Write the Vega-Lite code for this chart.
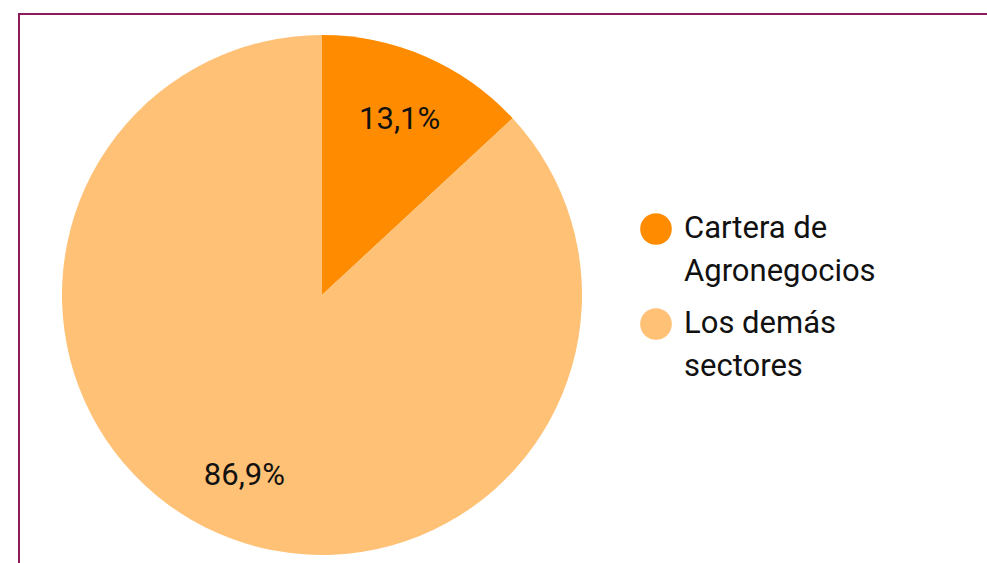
{
  "$schema": "https://vega.github.io/schema/vega-lite/v6.json",
  "width": 980,
  "height": 562,
  "autosize": {"type": "none"},
  "padding": {"left": 19, "top": 14, "right": 0, "bottom": 0},
  "background": "white",
  "view": {"stroke": "#8E1A5C", "strokeWidth": 2, "fill": "white"},
  "config": {
    "view": {"stroke": "#8E1A5C", "strokeWidth": 2},
    "locale": {"number": {"decimal": ",", "thousands": ".", "grouping": [3], "currency": ["", " €"]}},
    "font": "Roboto"
  },
  "data": {
    "values": [
      {"sector": "Cartera de Agronegocios", "share": 0.131},
      {"sector": "Los demás sectores", "share": 0.869}
    ]
  },
  "encoding": {
    "theta": {"field": "share", "type": "quantitative", "stack": true},
    "order": {"field": "sector", "type": "nominal"}
  },
  "layer": [
    {
      "mark": {"type": "arc", "outerRadius": 260, "xOffset": -187},
      "encoding": {
        "color": {
          "field": "sector",
          "type": "nominal",
          "scale": {"domain": ["Cartera de Agronegocios", "Los demás sectores"], "range": ["#FF8C00", "#FFC175"]},
          "legend": {
            "title": null,
            "orient": "none",
            "legendX": 621,
            "legendY": 199,
            "symbolType": "circle",
            "symbolSize": 1000,
            "symbolStrokeWidth": 0,
            "labelFont": "Roboto",
            "labelFontSize": 31,
            "labelColor": "#111111",
            "labelLimit": 400,
            "labelOffset": 12,
            "rowPadding": 21,
            "labelExpr": "datum.label == 'Cartera de Agronegocios' ? ['Cartera de', 'Agronegocios'] : ['Los demás', 'sectores']",
            "encode": {"labels": {"update": {"lineHeight": {"value": 43}}}}
          }
        }
      }
    },
    {
      "mark": {"type": "text", "radius": 194, "xOffset": -187, "dy": 3, "font": "Roboto", "fontSize": 31, "color": "#111111"},
      "encoding": {
        "text": {"field": "share", "type": "quantitative", "format": ".1%"}
      }
    }
  ]
}
